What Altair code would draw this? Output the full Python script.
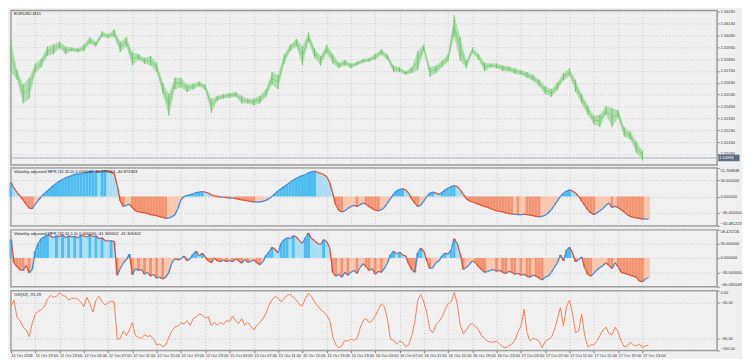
import json
import numpy as np
import pandas as pd
import altair as alt

# ---------------- data ----------------
TIME_LABELS = ["11 Oct 2018", "11 Oct 19:00", "11 Oct 23:00", "12 Oct 03:00", "12 Oct 07:00",
               "12 Oct 11:00", "12 Oct 15:00", "12 Oct 19:00", "12 Oct 23:00", "15 Oct 03:00",
               "15 Oct 07:00", "15 Oct 11:00", "15 Oct 15:00", "15 Oct 19:00", "15 Oct 23:00",
               "16 Oct 03:00", "16 Oct 07:00", "16 Oct 11:00", "16 Oct 15:00", "16 Oct 19:00",
               "16 Oct 23:00", "17 Oct 03:00", "17 Oct 07:00", "17 Oct 11:00", "17 Oct 15:00",
               "17 Oct 19:00", "17 Oct 23:00"]

# hourly high / low of EURUSD (hour index from 11 Oct 15:00, trading hours)
PRICE_HIGH = [1.55992, 1.55736, 1.55616, 1.55672, 1.55792, 1.55832, 1.55936, 1.55952, 1.55976, 1.55936,
              1.55928, 1.55920, 1.55952, 1.56016, 1.55976, 1.56064, 1.56040, 1.56080, 1.55976, 1.56016,
              1.55888, 1.55872, 1.55840, 1.55856, 1.55800, 1.55632, 1.55536, 1.55672, 1.55672, 1.55616,
              1.55624, 1.55640, 1.55616, 1.55496, 1.55520, 1.55536, 1.55544, 1.55552, 1.55520, 1.55496,
              1.55496, 1.55520, 1.55576, 1.55720, 1.55696, 1.55872, 1.55952, 1.56000, 1.55936, 1.56056,
              1.55920, 1.55856, 1.55952, 1.55872, 1.55800, 1.55824, 1.55792, 1.55808, 1.55832, 1.55840,
              1.55872, 1.55912, 1.55872, 1.55776, 1.55760, 1.55728, 1.55760, 1.55896, 1.55952, 1.55760,
              1.55776, 1.55816, 1.55872, 1.56200, 1.56016, 1.55816, 1.55928, 1.55872, 1.55800, 1.55792,
              1.55792, 1.55776, 1.55768, 1.55752, 1.55736, 1.55720, 1.55696, 1.55656, 1.55600, 1.55576,
              1.55632, 1.55712, 1.55752, 1.55656, 1.55536, 1.55440, 1.55352, 1.55360, 1.55432, 1.55416,
              1.55400, 1.55256, 1.55216, 1.55136, 1.55056]
PRICE_LOW = [1.55720, 1.55656, 1.55456, 1.55496, 1.55712, 1.55760, 1.55856, 1.55872, 1.55920, 1.55872,
             1.55896, 1.55888, 1.55896, 1.55960, 1.55936, 1.56016, 1.56008, 1.56016, 1.55888, 1.55936,
             1.55776, 1.55824, 1.55792, 1.55776, 1.55720, 1.55536, 1.55352, 1.55576, 1.55592, 1.55552,
             1.55576, 1.55600, 1.55568, 1.55376, 1.55480, 1.55496, 1.55504, 1.55512, 1.55456, 1.55456,
             1.55440, 1.55456, 1.55512, 1.55616, 1.55576, 1.55792, 1.55896, 1.55936, 1.55776, 1.55976,
             1.55840, 1.55776, 1.55880, 1.55792, 1.55752, 1.55776, 1.55752, 1.55776, 1.55800, 1.55808,
             1.55824, 1.55864, 1.55824, 1.55720, 1.55720, 1.55696, 1.55712, 1.55736, 1.55896, 1.55680,
             1.55712, 1.55760, 1.55808, 1.56016, 1.55816, 1.55752, 1.55880, 1.55824, 1.55728, 1.55760,
             1.55752, 1.55728, 1.55728, 1.55704, 1.55696, 1.55672, 1.55648, 1.55600, 1.55536, 1.55512,
             1.55568, 1.55648, 1.55688, 1.55552, 1.55456, 1.55360, 1.55280, 1.55256, 1.55360, 1.55256,
             1.55336, 1.55176, 1.55152, 1.55040, 1.54976]
LAST_PRICE = 1.54996
PRICE_TICKS = [1.5503, 1.5513, 1.5523, 1.5533, 1.5543, 1.5553, 1.5563, 1.5573, 1.5583, 1.5593,
               1.5603, 1.5613, 1.5623]

# half-hourly indicator readings
MFR0 = [25, 15, 7, 1, -6, -14, -21, -22, -14, -7,
        0, 5, 10, 15, 20, 24, 28, 31, 34, 36,
        38, 40, 41, 41, 42, 44, 45, 46, 46, 45,
        46, 47, 46, 44, 42, 20, -8, -18, -16, -14,
        -20, -26, -28, -29, -30, -31, -33, -34, -35, -37,
        -38, -40, -39, -37, -33, -22, -6, 0, 2, 3,
        5, 7, 8, 9, 8, 6, 3, 1, 0, -1,
        -1, -2, -3, -3, -4, -5, -6, -7, -8, -9,
        -10, -10, -10, -9, -7, -4, 0, 5, 10, 14,
        18, 22, 26, 30, 33, 36, 38, 40, 43, 45,
        46, 44, 42, 40, 36, 25, 5, -15, -25, -28,
        -26, -22, -18, -16, -18, -15, -12, -14, -18, -22,
        -25, -26, -24, -20, -12, -4, 4, 10, 13, 14,
        12, 6, -4, -12, -18, -16, -8, 0, 6, 8,
        6, 4, 7, 12, 15, 18, 20, 18, 12, 4,
        -4, -8, -10, -12, -14, -16, -18, -20, -22, -24,
        -26, -27, -28, -30, -31, -32, -32, -33, -33, -32,
        -33, -34, -35, -36, -37, -36, -34, -30, -24, -16,
        -8, 0, 6, 10, 12, 10, 6, 0, -8, -16,
        -24, -30, -33, -30, -26, -22, -16, -12, -20, -18,
        -20, -24, -28, -33, -36, -38, -39, -40, -41, -41,
        -40.87]
MFR1 = [38, -10, -18, -25, -26, -16, -31, -24, 14, 30,
        40, 44, 48, 46, 42, 46, 44, 48, 42, 46,
        44, 45, 41, 47, 46, 43, 48, 44, 46, 40,
        42, 36, 35, 36, 34, -36, -22, -10, -4, 8,
        -35, -22, -26, -24, -34, -30, -38, -34, -42, -40,
        -44, -40, -30, -10, -2, -4, -2, 4, -6, -2,
        8, 14, 4, 10, 2, -6, -10, 0, -6, -8,
        -4, -8, -5, -8, -2, -6, -11, -3, -9, -7,
        -4, -10, -14, -8, 5, 12, 22, 18, 10, 30,
        38, 42, 40, 46, 44, 36, 30, 42, 52, 40,
        36, 30, 28, 38, 34, 20, -30, -38, -34, -40,
        -30, -36, -30, -26, -32, -20, -12, -18, -26, -22,
        -34, -28, -30, -22, -10, 6, 14, 8, 12, 6,
        4, -12, -24, -30, 10, 20, 14, -6, -22, -20,
        -10, -6, 4, 10, 8, 16, 40, 30, 8, -24,
        -20, -14, -6, -10, -18, -24, -30, -28, -26, -24,
        -28, -26, -30, -32, -28, -30, -34, -32, -36, -34,
        -38, -40, -36, -38, -42, -46, -40, -38, -30, -20,
        -10, 6, -6, 16, 22, 10, -8, -4, 2, -20,
        -34, -38, -32, -25, -20, -16, -10, -16, -22, -10,
        -18, -30, -32, -34, -36, -38, -40, -48, -50, -44,
        -41.31]
WPR = [-26.6, -15.6, -45.3, -50.0, -60.9, -65.6, -76.6, -54.7, -39.1, -34.4,
       -31.3, -26.6, -14.1, -7.8, -10.9, -9.4, -3.1, -7.8, -9.4, -15.6,
       -12.5, -12.5, -14.1, -18.8, -26.6, -10.9, -21.9, -35.9, -15.6, -9.4,
       -18.8, -23.4, -20.3, -17.2, -18.8, -81.3, -79.7, -67.2, -75.0, -65.6,
       -53.1, -75.0, -78.1, -79.7, -73.4, -76.6, -75.0, -81.3, -90.6, -89.1,
       -93.8, -90.6, -78.1, -67.2, -60.9, -59.4, -53.1, -56.3, -50.0, -57.8,
       -46.9, -43.8, -39.1, -40.6, -45.3, -43.8, -57.8, -53.1, -57.8, -53.1,
       -56.3, -50.0, -51.6, -42.2, -50.0, -54.7, -46.9, -57.8, -53.1, -59.4,
       -65.6, -57.8, -53.1, -46.9, -37.5, -23.4, -15.6, -9.4, -12.5, -18.8,
       -12.5, -7.8, -6.3, -10.9, -15.6, -23.4, -25.0, -12.5, -4.7, -9.4,
       -18.8, -25.0, -31.3, -35.9, -40.6, -50.0, -76.6, -90.6, -95.3, -92.2,
       -82.8, -84.4, -81.3, -82.8, -79.7, -62.5, -50.0, -46.9, -53.1, -50.0,
       -42.2, -31.3, -21.9, -26.6, -46.9, -81.3, -82.8, -89.1, -84.4, -85.9,
       -93.8, -90.6, -75.0, -53.1, -15.6, -6.3, -18.8, -37.5, -65.6, -70.3,
       -56.3, -51.6, -43.8, -31.3, -21.9, -18.8, -3.1, -21.9, -57.8, -71.9,
       -65.6, -57.8, -54.7, -59.4, -65.6, -75.0, -79.7, -84.4, -85.9, -85.9,
       -84.4, -89.1, -93.8, -95.3, -92.2, -89.1, -82.8, -68.8, -59.4, -31.3,
       -70.3, -84.4, -79.7, -81.3, -84.4, -95.3, -84.4, -81.3, -78.1, -65.6,
       -46.9, -28.1, -59.4, -26.6, -15.6, -39.1, -70.3, -67.2, -39.1, -75.0,
       -93.8, -90.6, -90.6, -84.4, -75.0, -65.6, -60.9, -71.9, -73.4, -60.9,
       -68.8, -84.4, -93.8, -92.2, -85.9, -90.6, -92.2, -89.1, -95.3, -92.2,
       -91.29]

MFR0_TITLE = "Volatility adjusted MFR (32,32,0) 0.000000 -40.873363 -40.873363"
MFR1_TITLE = "Volatility adjusted MFR (32,32,1,0) 0.000000 -41.309402 -41.309402"
WPR_TITLE = "%R(32) -91.29"
PRICE_TITLE = "EURUSD,M15"

# ---------------- styling ----------------
FONT = "Liberation Sans"
W = 708
X_MAX = 116.3
GRID = "#c9c9c9"
XS = alt.Scale(domain=[0, X_MAX], nice=False, zero=False)
XT = [4 * i for i in range(len(TIME_LABELS))]

COLOR_DOMAIN = ["pu", "pd", "nu", "nd", "up", "dn"]
COLOR_RANGE = ["#4dbdf0", "#a9ddf6", "#f8c6ad", "#f29372", "#3b8de4", "#e4502f"]
CS = alt.Scale(domain=COLOR_DOMAIN, range=COLOR_RANGE)


def x_axis(bottom=False):
    if bottom:
        return alt.Axis(values=XT, title=None, grid=True, gridColor=GRID, gridDash=[1, 2],
                        domain=False, ticks=True, tickSize=2, tickColor="#777777",
                        labelExpr=json.dumps(TIME_LABELS) + "[round(datum.value/4)]",
                        labelAlign="left", labelBaseline="top", labelFontSize=4, labelFont=FONT,
                        labelColor="#333333", labelPadding=1, labelOverlap=False,
                        labelFlush=False, labelBound=False)
    return alt.Axis(values=XT, title=None, grid=True, gridColor=GRID, gridDash=[1, 2],
                    domain=False, ticks=False, labels=False)


def y_axis(values, fmt):
    return alt.Axis(orient="right", values=values, format=fmt, title=None, grid=True,
                    gridColor=GRID, gridDash=[1, 2], domain=False, tickSize=2,
                    tickColor="#777777", labelFontSize=4, labelFont=FONT,
                    labelColor="#333333", labelPadding=1, labelFlush=True)


def title_layer(text):
    return alt.Chart(pd.DataFrame({"label": [text]})).mark_text(
        align="left", baseline="top", fontSize=4.2, font=FONT, color="#222222"
    ).encode(x=alt.value(3), y=alt.value(2), text="label:N")


# ---------------- main price panel ----------------
pdf = pd.DataFrame({"t": np.arange(len(PRICE_HIGH)) * 1.0, "hi": PRICE_HIGH, "lo": PRICE_LOW})
pdf["mid"] = (pdf["hi"] + pdf["lo"]) / 2
PS = alt.Scale(domain=[1.54936, 1.56240], nice=False, zero=False)
PX = lambda f: alt.X(f, type="quantitative", scale=XS, axis=x_axis())
PY = lambda f: alt.Y(f, type="quantitative", scale=PS, axis=y_axis(PRICE_TICKS, ".5f"))

band = alt.Chart(pdf).mark_area(color="#a9dba6", opacity=0.9).encode(x=PX("t"), y=PY("lo"), y2="hi")
bars = alt.Chart(pdf).mark_rule(color="#72c372", strokeWidth=1).encode(x=PX("t"), y=PY("lo"), y2="hi")
mid = alt.Chart(pdf).mark_line(color="#7cc77c", strokeWidth=0.8).encode(x=PX("t"), y=PY("mid"))

bid_df = pd.DataFrame({"p": [LAST_PRICE]})
bid = alt.Chart(bid_df).mark_rule(color="#aab4be", strokeWidth=1).encode(y=PY("p"))
box_df = pd.DataFrame({"x0": [X_MAX + 0.2], "x1": [X_MAX + 3.7],
                       "y0": [LAST_PRICE - 0.00028], "y1": [LAST_PRICE + 0.00028],
                       "p": [LAST_PRICE], "lab": [f"{LAST_PRICE:.5f}"]})
box = alt.Chart(box_df).mark_rect(color="#5d6f82", clip=False).encode(
    x=PX("x0"), x2="x1", y=PY("y0"), y2="y1")
box_txt = alt.Chart(box_df).mark_text(align="left", baseline="middle", fontSize=4, font=FONT,
                                      color="white", clip=False, dx=1).encode(
    x=PX("x0"), y=PY("p"), text="lab:N")

main = alt.layer(bid, band, bars, mid, box, box_txt, title_layer(PRICE_TITLE)).properties(
    width=W, height=155)


# ---------------- MFR panels ----------------
def mfr_panel(values, dom, title, height):
    df = pd.DataFrame({"t": np.arange(len(values)) * 0.5, "v": values})
    df["vp"] = df["v"].shift(1).fillna(df["v"])
    df["tp"] = df["t"].shift(1).fillna(df["t"])
    df["t0"] = df["t"] - 0.25
    df["t1"] = df["t"] + 0.25
    df["z"] = 0.0
    rising = df["v"] >= df["vp"]
    df["kind"] = np.where(df["v"] >= 0, np.where(rising, "pu", "pd"), np.where(rising, "nu", "nd"))
    df["dir"] = np.where(rising, "up", "dn")
    ys = alt.Scale(domain=dom, nice=False, zero=False)
    ax = y_axis([dom[1], 30, 0, -30, dom[0]], ".6f")
    X = lambda f: alt.X(f, type="quantitative", scale=XS, axis=x_axis())
    Y = lambda f: alt.Y(f, type="quantitative", scale=ys, axis=ax)
    hist = alt.Chart(df).mark_rect().encode(
        x=X("t0"), x2="t1", y=Y("v"), y2="z",
        color=alt.Color("kind:N", scale=CS, legend=None))
    seg = alt.Chart(df.iloc[1:]).mark_rule(strokeWidth=1.3).encode(
        x=X("tp"), x2="t", y=Y("vp"), y2="v",
        color=alt.Color("dir:N", scale=CS, legend=None))
    return alt.layer(hist, seg, title_layer(title)).properties(width=W, height=height)


p2 = mfr_panel(MFR0, [-53.481223, 51.768848], MFR0_TITLE, 58)
p3 = mfr_panel(MFR1, [-60.035048, 58.425726], MFR1_TITLE, 57)

# ---------------- %R panel ----------------
wdf = pd.DataFrame({"t": np.arange(len(WPR)) * 0.5, "v": WPR})
wline = alt.Chart(wdf).mark_line(color="#f4825a", strokeWidth=1).encode(
    x=alt.X("t", type="quantitative", scale=XS, axis=x_axis(bottom=True)),
    y=alt.Y("v", type="quantitative", scale=alt.Scale(domain=[-100, 0], nice=False),
            axis=y_axis([0, -20, -80, -100], ".2f")))
p4 = alt.layer(wline, title_layer(WPR_TITLE)).properties(width=W, height=60)

chart = alt.vconcat(main, p2, p3, p4, spacing=0).properties(
    background="#f0f0f0", padding=0
).configure_view(stroke="#9a9a9a", strokeWidth=1.5)

chart.save("out.html", embed_options={"renderer": "svg", "actions": False})
